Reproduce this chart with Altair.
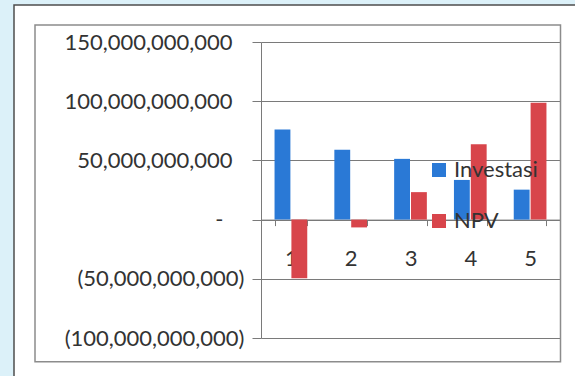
import altair as alt
import pandas as pd

# ---- data ----
categories = ["1", "2", "3", "4", "5"]
investasi = [76.0e9, 58.9e9, 51.3e9, 33.5e9, 25.3e9]
npv = [-49.6e9, -6.6e9, 23.2e9, 63.6e9, 98.6e9]
series = ["Investasi", "NPV"]
colors = ["#2a79d6", "#d8454b"]
y_ticks = [-100e9, -50e9, 0, 50e9, 100e9, 150e9]

rows = []
for c, a, b in zip(categories, investasi, npv):
    rows.append({"Tahun": c, "Seri": series[0], "Nilai": a})
    rows.append({"Tahun": c, "Seri": series[1], "Nilai": b})
df = pd.DataFrame(rows)

# ---- layout ----
W, H = 299, 296
PAD = {"left": 261, "top": 42, "right": 15, "bottom": 38}
y_min, y_max = y_ticks[0], y_ticks[-1]
zero_offset = -H * (0 - y_min) / (y_max - y_min)

FONT = "Lato"
TXT = "#333333"
GRID = "#7a7a7a"

label_expr = (
    "datum.value > 0 ? format(datum.value, ',') : "
    "(datum.value < 0 ? '(' + format(-datum.value, ',') + ')' : '-')"
)
y_label_padding = {
    "condition": [
        {"test": "datum.value > 0", "value": 20},
        {"test": "datum.value == 0", "value": 29},
    ],
    "value": 8,
}

bars = alt.Chart(df).mark_bar().encode(
    x=alt.X(
        "Tahun:N",
        sort=categories,
        scale=alt.Scale(paddingInner=0.453, paddingOuter=0.2265),
        axis=alt.Axis(
            title=None,
            offset=zero_offset,
            tickBand="extent",
            tickSize=6,
            labelPadding=23,
            labelAngle=0,
            labelFont=FONT,
            labelFontSize=22,
            labelColor=TXT,
            domainColor=GRID,
            tickColor=GRID,
            grid=False,
        ),
    ),
    xOffset=alt.XOffset("Seri:N", sort=series, scale=alt.Scale(paddingInner=0.06)),
    y=alt.Y(
        "Nilai:Q",
        scale=alt.Scale(domain=[y_min, y_max], nice=False),
        axis=alt.Axis(
            title=None,
            values=y_ticks,
            labelExpr=label_expr,
            grid=True,
            gridColor=GRID,
            gridWidth=1,
            domainColor=GRID,
            tickColor=GRID,
            tickSize=9,
            labelPadding=y_label_padding,
            labelFont=FONT,
            labelFontSize=22,
            labelColor=TXT,
        ),
    ),
    color=alt.Color(
        "Seri:N",
        sort=series,
        scale=alt.Scale(domain=series, range=colors),
        legend=alt.Legend(
            title=None,
            orient="none",
            legendX=167,
            legendY=117,
            direction="vertical",
            symbolType="square",
            symbolSize=196,
            symbolStrokeWidth=0,
            labelFont=FONT,
            labelFontSize=22,
            labelColor=TXT,
            labelOffset=4,
            rowPadding=29,
            padding=0,
        ),
    ),
)

one = alt.Data(values=[{}])
L, T = PAD["left"], PAD["top"]

strip_left = alt.Chart(one).mark_rect(color="#dcf1f9").encode(
    x=alt.value(-L), x2=alt.value(14 - L), y=alt.value(-T), y2=alt.value(376 - T)
)
strip_top = alt.Chart(one).mark_rect(color="#dcf1f9").encode(
    x=alt.value(-L), x2=alt.value(575 - L), y=alt.value(-T), y2=alt.value(5 - T)
)
outer_frame = alt.Chart(one).mark_rect(
    fill="transparent", stroke="#4d4d4d", strokeWidth=1.5
).encode(x=alt.value(14 - L), x2=alt.value(600 - L), y=alt.value(5 - T), y2=alt.value(400 - T))
inner_frame = alt.Chart(one).mark_rect(
    fill="transparent", stroke="#8c8c8c", strokeWidth=1.5
).encode(x=alt.value(35 - L), x2=alt.value(560.5 - L), y=alt.value(25 - T), y2=alt.value(361.7 - T))

chart = alt.layer(strip_left, strip_top, outer_frame, inner_frame, bars).properties(
    width=W,
    height=H,
    padding=PAD,
    autosize=alt.AutoSizeParams(type="none"),
    background="white",
).configure_view(stroke=None)

chart.save("out.html", embed_options={"renderer": "svg", "actions": False})
